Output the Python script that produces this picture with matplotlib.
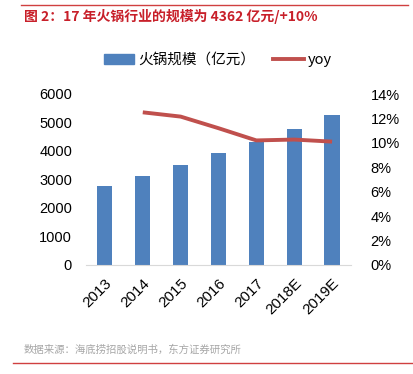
import matplotlib
matplotlib.use("Agg")
import matplotlib.pyplot as plt
from matplotlib.lines import Line2D
from matplotlib.ticker import FuncFormatter

plt.rcParams['font.family'] = ['Liberation Sans', 'Noto Sans CJK SC', 'DejaVu Sans']

years = ["2013", "2014", "2015", "2016", "2017", "2018E", "2019E"]
scale = [2780, 3130, 3510, 3920, 4330, 4770, 5265]
yoy_years = ["2014", "2015", "2016", "2017", "2018E", "2019E"]
yoy = [12.5, 12.15, 11.2, 10.2, 10.27, 10.1]

title = "图 2：17 年火锅行业的规模为 4362 亿元/+10%"
source = "数据来源：海底捞招股说明书，东方证券研究所"

W, H = 414, 374
fig = plt.figure(figsize=(W / 100, H / 100), dpi=100)

ax = fig.add_axes([86 / W, 1 - 265 / H, (351 - 86) / W, (265 - 94) / H])
x = list(range(len(years)))
ax.bar(x, scale, width=0.4, color="#4F81BD", zorder=2)
ax.set_xlim(-0.5, len(years) - 0.5)
ax.set_ylim(0, 6000)
ax.set_yticks(range(0, 6001, 1000))
ax.set_xticks(x)
ax.set_xticklabels(years, rotation=45, ha="right", rotation_mode="anchor", fontsize=11)
for s in ["top", "right", "left"]:
    ax.spines[s].set_visible(False)
ax.spines["bottom"].set_color("#D9D9D9")
ax.tick_params(axis="y", length=0, labelsize=10.5, colors="#000000", pad=10)
ax.tick_params(axis="x", length=0, labelsize=11, colors="#000000", pad=8)

ax2 = ax.twinx()
xi = [years.index(y) for y in yoy_years]
ax2.plot(xi, yoy, color="#C0504D", lw=2.8, solid_capstyle="butt", zorder=3)
ax2.set_ylim(0, 14)
ax2.set_yticks(range(0, 15, 2))
ax2.yaxis.set_major_formatter(FuncFormatter(lambda v, p: f"{int(v)}%"))
for s in ["top", "right", "left", "bottom"]:
    ax2.spines[s].set_visible(False)
ax2.tick_params(axis="y", length=0, labelsize=10.5, pad=14)

# legend
handles = [plt.Rectangle((0, 0), 1, 1, color="#4F81BD"),
           Line2D([0], [0], color="#C0504D", lw=2.8)]
fig.legend(handles, ["火锅规模（亿元）", "yoy"], loc="center",
           bbox_to_anchor=(218 / W, 1 - 60 / H), ncol=2, frameon=False,
           handlelength=2.1, handletextpad=0.3, columnspacing=1.2,
           prop={'family': ['Noto Sans CJK SC', 'DejaVu Sans'], 'size': 10.5})

# title, source and rules
fig.text(24 / W, 1 - 17 / H, title, color="#C8202A", fontsize=10, fontweight="bold",
         ha="left", va="center", family=['Noto Sans CJK SC', 'DejaVu Sans'])
fig.text(24 / W, 1 - 350 / H, source, color="#A6A6A6", fontsize=7.5,
         ha="left", va="center", family=['Noto Sans CJK SC', 'DejaVu Sans'])
fig.add_artist(Line2D([21 / W, 408 / W], [1 - 5 / H, 1 - 5 / H], color="#D04040", lw=1))
fig.add_artist(Line2D([13 / W, 413 / W], [1 - 363 / H, 1 - 363 / H], color="#D04040", lw=1))

fig.savefig("out.png", dpi=100)
